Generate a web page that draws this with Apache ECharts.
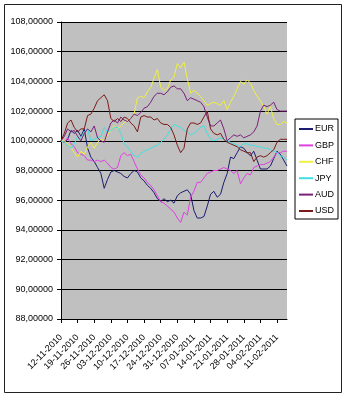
<!DOCTYPE html>
<html>
<head>
<meta charset="utf-8">
<script src="https://cdn.jsdelivr.net/npm/echarts@6/dist/echarts.min.js"></script>
<style>
html,body{margin:0;padding:0;background:#fff;}
#c{width:348px;height:400px;}
</style>
</head>
<body>
<div id="c"></div>
<script>
var categories = [
 '12-11-2010','15-11-2010','16-11-2010','17-11-2010','18-11-2010','19-11-2010',
 '22-11-2010','23-11-2010','24-11-2010','25-11-2010','26-11-2010',
 '29-11-2010','30-11-2010','01-12-2010','02-12-2010','03-12-2010',
 '06-12-2010','07-12-2010','08-12-2010','09-12-2010','10-12-2010',
 '13-12-2010','14-12-2010','15-12-2010','16-12-2010','17-12-2010',
 '20-12-2010','21-12-2010','22-12-2010','23-12-2010','24-12-2010',
 '27-12-2010','28-12-2010','29-12-2010','30-12-2010','31-12-2010',
 '03-01-2011','04-01-2011','05-01-2011','06-01-2011','07-01-2011',
 '10-01-2011','11-01-2011','12-01-2011','13-01-2011','14-01-2011',
 '17-01-2011','18-01-2011','19-01-2011','20-01-2011','21-01-2011',
 '24-01-2011','25-01-2011','26-01-2011','27-01-2011','28-01-2011',
 '31-01-2011','01-02-2011','02-02-2011','03-02-2011','04-02-2011',
 '07-02-2011','08-02-2011','09-02-2011','10-02-2011','11-02-2011',
 '14-02-2011','15-02-2011','16-02-2011'
];

var seriesNames = ['EUR','GBP','CHF','JPY','AUD','USD'];

var EUR = [100.0,99.9,100.1,100.7,100.5,100.7,100.3,100.8,99.5,98.9,98.6,98.2,97.8,96.8,97.4,97.9,98.0,97.9,97.8,97.6,97.5,97.8,98.0,97.9,97.5,97.3,97.0,96.8,96.5,96.1,95.9,96.1,95.9,96.0,95.8,96.3,96.5,96.6,96.7,96.4,95.3,94.8,94.8,94.9,95.6,96.4,96.6,96.2,96.4,97.2,97.8,98.9,98.8,99.2,99.6,99.5,99.2,99.0,99.3,98.7,98.1,98.1,98.1,98.3,98.8,99.3,99.1,98.7,98.3];
var GBP = [100.0,99.9,100.2,99.8,99.6,99.2,99.1,99.0,98.7,98.7,98.6,98.7,98.6,98.7,98.5,98.2,98.1,98.2,99.0,99.2,99.0,99.1,98.6,98.1,97.7,97.5,97.2,97.0,96.7,96.3,95.9,95.8,95.6,95.4,95.2,94.8,94.5,95.2,95.0,96.2,96.6,97.2,97.2,97.5,97.8,97.9,98.0,98.0,98.1,98.2,98.1,98.0,97.8,98.0,97.1,97.5,97.8,97.7,98.2,98.3,98.4,98.4,98.5,98.6,98.9,99.2,99.2,99.3,99.3];
var CHF = [100.0,100.0,99.8,99.5,99.2,98.9,99.3,99.1,99.6,99.9,99.5,99.9,100.1,100.0,100.4,100.7,101.0,100.8,101.0,101.2,101.4,101.5,101.8,102.9,103.0,102.9,103.3,103.6,104.2,104.8,103.6,103.4,103.5,104.1,104.3,105.2,104.9,105.3,104.2,103.2,103.4,103.2,103.0,102.7,102.4,102.5,102.6,102.5,102.4,102.7,102.1,102.6,103.0,103.5,104.0,103.8,104.1,103.9,103.4,103.0,102.7,102.3,101.8,102.3,101.5,101.1,101.1,101.3,101.2];
var JPY = [100.0,99.9,99.7,99.5,99.8,100.3,100.2,100.6,100.8,100.0,100.1,100.2,100.3,100.9,100.6,100.7,100.9,100.9,100.5,99.8,99.6,99.3,99.0,98.9,99.1,99.3,99.4,99.5,99.6,99.7,99.9,100.1,100.4,100.8,101.1,101.0,100.9,100.7,100.6,100.4,100.5,100.7,100.9,101.0,100.5,100.1,100.0,100.1,100.2,100.1,100.0,99.9,99.8,99.7,99.6,99.8,99.8,99.7,99.7,99.6,99.6,99.5,99.5,99.4,99.3,99.2,99.0,98.9,98.7];
var AUD = [100.0,100.3,100.8,100.6,100.7,100.3,100.0,100.5,100.8,100.6,101.0,100.2,100.0,99.9,100.6,101.2,101.4,101.2,101.6,101.4,101.3,101.5,101.8,101.7,101.9,102.2,102.3,102.6,103.0,103.2,103.2,103.1,103.3,103.6,103.7,103.5,103.5,103.2,102.7,102.9,102.8,102.7,102.6,102.3,101.6,101.0,101.0,101.2,101.4,100.8,100.0,100.2,100.4,100.3,100.4,100.2,100.3,100.4,100.6,101.0,102.0,102.4,102.3,102.4,102.6,102.1,102.0,102.0,102.0];
var USD = [100.0,100.5,101.2,101.4,100.9,100.6,100.8,100.8,101.7,101.8,102.2,102.7,102.9,103.1,102.7,101.5,101.3,101.5,101.3,101.6,101.5,101.2,101.0,100.6,101.6,101.7,101.6,101.6,101.4,101.5,101.2,101.1,101.1,100.9,100.4,99.7,99.2,99.5,100.8,101.2,101.2,101.1,101.2,101.6,102.0,100.8,100.5,100.4,100.5,100.1,99.9,99.8,99.7,99.6,99.4,99.3,99.2,99.2,98.6,98.9,99.0,98.9,99.0,99.2,99.4,99.9,100.1,100.1,100.1];

var yMin = 88, yMax = 108, yStep = 2;
var colors = ['#1c1c70','#e040e0','#f0f040','#40e0e0','#7a207a','#7a1a1a'];

var dataArr = [EUR, GBP, CHF, JPY, AUD, USD];
var FONT = 'Liberation Sans, Arial, sans-serif';

var chart = echarts.init(document.getElementById('c'), null, {renderer:'canvas'});
chart.setOption({
  animation: false,
  backgroundColor: '#ffffff',
  color: colors,
  graphic: [{
    type: 'rect',
    shape: {x: 4.5, y: 4.5, width: 337, height: 388},
    style: {fill: 'none', stroke: '#222', lineWidth: 1},
    z: -10
  }],
  grid: {
    left: 61, right: 61, top: 22, bottom: 81,
    show: true, backgroundColor: '#c0c0c0', borderWidth: 0
  },
  legend: {
    orient: 'vertical',
    left: 295, top: 119,
    padding: [4, 4, 2, 4],
    borderColor: '#000', borderWidth: 1,
    icon: 'rect',
    itemWidth: 14, itemHeight: 2,
    itemGap: 4.4,
    textStyle: {fontFamily: FONT, fontSize: 9, color: '#000', lineHeight: 12, padding: [0, 0, 0, -3]},
    data: seriesNames
  },
  xAxis: {
    type: 'category',
    data: categories,
    boundaryGap: false,
    axisLine: {lineStyle: {color: '#000', width: 1}},
    axisTick: {show: true, interval: 4, length: 4, lineStyle: {color: '#000'}},
    axisLabel: {
      interval: 4, rotate: 45, margin: 17,
      fontFamily: FONT, fontSize: 9, color: '#000'
    },
    splitLine: {show: false}
  },
  yAxis: {
    type: 'value',
    min: yMin, max: yMax, interval: yStep,
    axisLine: {show: true, lineStyle: {color: '#000', width: 1}},
    axisTick: {show: true, length: 4, lineStyle: {color: '#000'}},
    axisLabel: {
      margin: 8, fontFamily: FONT, fontSize: 9, color: '#000',
      formatter: function (v) { return v.toFixed(5).replace('.', ','); }
    },
    splitLine: {show: true, lineStyle: {color: '#000', width: 1}}
  },
  series: seriesNames.map(function (n, k) {
    return {
      name: n, type: 'line', data: dataArr[k],
      symbol: 'none', lineStyle: {width: 1}, smooth: false
    };
  })
});
</script>
</body>
</html>
